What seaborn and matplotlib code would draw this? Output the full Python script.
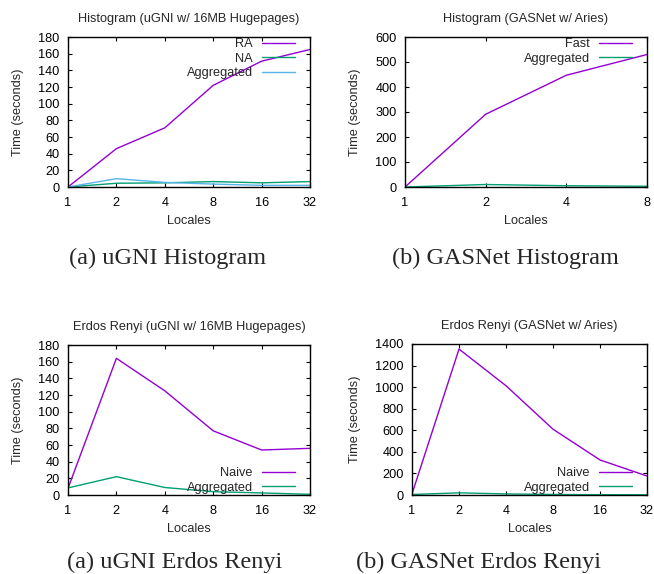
import numpy as np
import pandas as pd
import matplotlib
matplotlib.use("Agg")
import matplotlib.pyplot as plt
import seaborn as sns

# ---- data ----
locales_hist_ugni = [1, 2, 4, 8, 16, 32]
hist_ugni_ra = [0, 46, 71, 122, 151, 165]
hist_ugni_na = [0, 4.5, 5, 6.5, 5, 6.5]
hist_ugni_agg = [0, 10, 5.5, 3.5, 2, 2]

locales_hist_gasnet = [1, 2, 4, 8]
hist_gasnet_fast = [0, 291, 447, 530]
hist_gasnet_agg = [0, 10, 5, 3]

locales_er_ugni = [1, 2, 4, 8, 16, 32]
er_ugni_naive = [8, 164, 125, 77, 54, 56]
er_ugni_agg = [8.5, 22, 9, 4, 2.5, 0.8]

locales_er_gasnet = [1, 2, 4, 8, 16, 32]
er_gasnet_naive = [10, 1353, 1013, 610, 325, 176]
er_gasnet_agg = [5, 20, 10, 5, 3, 2]

titles = ["Histogram (uGNI w/ 16MB Hugepages)", "Histogram (GASNet w/ Aries)",
          "Erdos Renyi (uGNI w/ 16MB Hugepages)", "Erdos Renyi (GASNet w/ Aries)"]
captions = ["(a) uGNI Histogram", "(b) GASNet Histogram",
            "(a) uGNI Erdos Renyi", "(b) GASNet Erdos Renyi"]

sns.set_style("ticks")
plt.rcParams["font.family"] = ["Liberation Sans", "DejaVu Sans"]

C1, C2, C3 = "#9400D3", "#009E73", "#56B4E9"

fig = plt.figure(figsize=(6.54, 5.74), dpi=100)
W, H = 654, 574

boxes = [(68, 37, 310, 187), (405, 37, 647, 187), (68, 345, 310, 495), (412, 344, 647, 495)]

def frac(l, t, r, b):
    return [l / W, 1 - b / H, (r - l) / W, (b - t) / H]

axes = [fig.add_axes(frac(*bx)) for bx in boxes]

panels = [
    (locales_hist_ugni, [("RA", hist_ugni_ra, C1), ("NA", hist_ugni_na, C2), ("Aggregated", hist_ugni_agg, C3)],
     (0, 180), np.arange(0, 181, 20), "upper"),
    (locales_hist_gasnet, [("Fast", hist_gasnet_fast, C1), ("Aggregated", hist_gasnet_agg, C2)],
     (0, 600), np.arange(0, 601, 100), "upper"),
    (locales_er_ugni, [("Naive", er_ugni_naive, C1), ("Aggregated", er_ugni_agg, C2)],
     (0, 180), np.arange(0, 181, 20), "lower"),
    (locales_er_gasnet, [("Naive", er_gasnet_naive, C1), ("Aggregated", er_gasnet_agg, C2)],
     (0, 1400), np.arange(0, 1401, 200), "lower"),
]

fs = 9.2
for ax, bx, (locs, series, ylim, yt, loc), title in zip(axes, boxes, panels, titles):
    for name, vals, col in series:
        df = pd.DataFrame({"Locales": locs, "Time": vals})
        sns.lineplot(data=df, x="Locales", y="Time", ax=ax, color=col, linewidth=1.0, label=name)
    ax.set_xscale("log", base=2)
    ax.set_xlim(locs[0], locs[-1])
    ax.set_xticks(locs)
    ax.set_xticklabels([str(v) for v in locs])
    ax.minorticks_off()
    ax.set_ylim(*ylim)
    ax.set_yticks(yt)
    ax.tick_params(direction="in", top=True, right=True, length=3, width=0.8,
                   labelsize=fs, colors="black")
    ax.tick_params(axis="x", pad=7.5)
    ax.tick_params(axis="y", pad=6)
    for s in ax.spines.values():
        s.set_linewidth(1.0)
        s.set_color("black")
    ax.set_xlabel("Locales", fontsize=fs, labelpad=4)
    ax.set_ylabel("Time (seconds)", fontsize=fs, labelpad=10)
    ax.set_title(title, fontsize=fs, pad=11)
    l, t, r, b = bx
    wpx, hpx = r - l, b - t
    if loc == "upper":
        anchor = (1 - 10 / wpx, 1 + 4 / hpx)
        lc = "upper right"
    else:
        anchor = (1 - 10 / wpx, 0 - 4 / hpx)
        lc = "lower right"
    leg = ax.legend(loc=lc, bbox_to_anchor=anchor, frameon=False, markerfirst=False, fontsize=fs,
                    handlelength=2.6, handletextpad=0.7, labelspacing=0.2,
                    borderaxespad=0.0, borderpad=0.4)
    for t_ in leg.get_texts():
        t_.set_ha("right")

serif = ["Liberation Serif", "DejaVu Serif"]
cfs = 17.5
fig.text(168 / W, 1 - 264 / H, captions[0], ha="center", va="baseline", fontsize=cfs, family=serif)
fig.text(505 / W, 1 - 264 / H, captions[1], ha="center", va="baseline", fontsize=cfs, family=serif)
fig.text(175 / W, 1 - 568 / H, captions[2], ha="center", va="baseline", fontsize=cfs, family=serif)
fig.text(478 / W, 1 - 568 / H, captions[3], ha="center", va="baseline", fontsize=cfs, family=serif)

fig.savefig("out.png", dpi=100)
